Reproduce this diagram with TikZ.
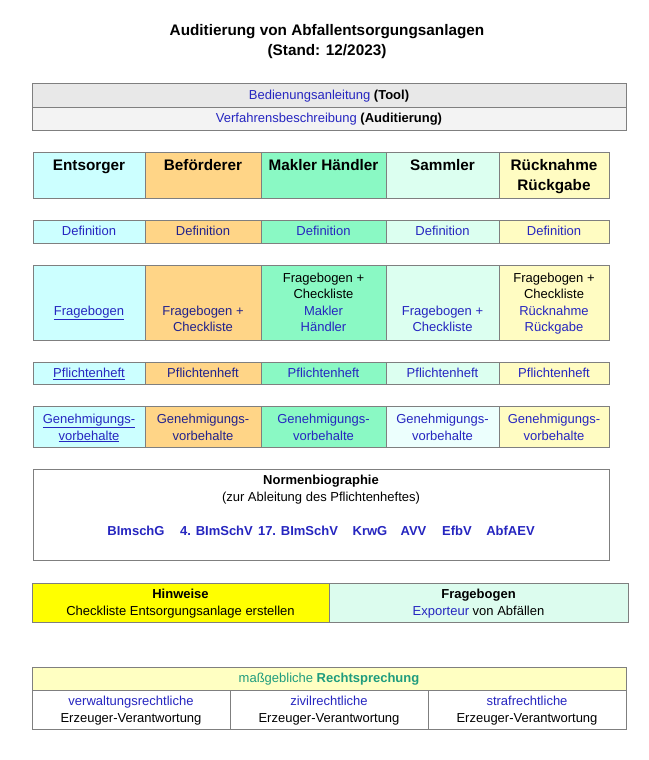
\documentclass[tikz,border=0pt]{standalone}
\usepackage{fontspec}
\setmainfont{Liberation Sans}
\definecolor{bordergray}{HTML}{7F7F7F}
\definecolor{cblue}{HTML}{2626C0}
\definecolor{cnavy}{HTML}{22228C}
\definecolor{cteal}{HTML}{1F9C7E}
\definecolor{cEnt}{HTML}{CCFFFF}
\definecolor{cBef}{HTML}{FFD587}
\definecolor{cMak}{HTML}{8AF9C4}
\definecolor{cSam}{HTML}{DCFFF0}
\definecolor{cSamL}{HTML}{ECFFFD}
\definecolor{cRue}{HTML}{FFFCC2}
\definecolor{cGrayA}{HTML}{E8E8E8}
\definecolor{cGrayB}{HTML}{F3F3F3}
\definecolor{cHin}{HTML}{FFFF00}
\definecolor{cFra}{HTML}{DCFCEE}
\definecolor{cRecht}{HTML}{FFFFC2}
\newcommand\cell[6]{\node[box, fill=#6, minimum width={#4-#2}, minimum height={#5-#3}] (#1) at ({(#2+#4)/2},{(#3+#5)/2}) {};}
\begin{document}
\begin{tikzpicture}[x=1pt,y=-1pt,
  box/.style={draw=bordergray, line width=1pt, inner sep=0pt, outer sep=0pt},
  txt/.style={inner sep=0pt, outer sep=0pt, align=center, font=\fontsize{13}{16.5}\selectfont, yshift=-1pt},
  txtw/.style={txt, font=\fontsize{13}{17.5}\selectfont},
  hdr/.style={inner sep=0pt, outer sep=0pt, align=center, font=\fontsize{15.3}{19.5}\selectfont\bfseries, yshift=-1.6pt},
  law/.style={txt, font=\fontsize{13}{16.5}\selectfont\bfseries, text=cblue}]
\useasboundingbox[fill=white] (0,0) rectangle (648,760);

% title
\node[hdr] (title1) at (327,30) {\strut Auditierung von Abfallentsorgungsanlagen};
\node[hdr] (title2) at (327,50) {\strut (Stand: 12/2023)};

% top box
\cell{tbA}{32}{83}{626}{107}{cGrayA}
\cell{tbB}{32}{107}{626}{130}{cGrayB}
\node[txt] (tbAt) at (tbA.center) {\strut{\color{cblue}Bedienungsanleitung} \textbf{(Tool)}};
\node[txt] (tbBt) at (tbB.center) {\strut{\color{cblue}Verfahrensbeschreibung} \textbf{(Auditierung)}};

% header row
\cell{h1}{33}{152}{145}{198}{cEnt}
\cell{h2}{145}{152}{261}{198}{cBef}
\cell{h3}{261}{152}{386}{198}{cMak}
\cell{h4}{386}{152}{499}{198}{cSam}
\cell{h5}{499}{152}{609}{198}{cRue}
\node[hdr] (h1t) at (89,165) {\strut Entsorger};
\node[hdr] (h2t) at (203,165) {\strut Beförderer};
\node[hdr] (h3t) at (323.5,165) {\strut Makler Händler};
\node[hdr] (h4t) at (442.5,165) {\strut Sammler};
\node[hdr] (h5t) at (554,175) {\strut Rücknahme\\\strut Rückgabe};

% definition row
\cell{d1}{33}{220}{145}{243}{cEnt}
\cell{d2}{145}{220}{261}{243}{cBef}
\cell{d3}{261}{220}{386}{243}{cMak}
\cell{d4}{386}{220}{499}{243}{cSam}
\cell{d5}{499}{220}{609}{243}{cRue}
\node[txt, text=cblue] (d1t) at (d1.center) {\strut Definition};
\node[txt, text=cnavy] (d2t) at (d2.center) {\strut Definition};
\node[txt, text=cblue] (d3t) at (d3.center) {\strut Definition};
\node[txt, text=cblue] (d4t) at (d4.center) {\strut Definition};
\node[txt, text=cblue] (d5t) at (d5.center) {\strut Definition};

% Fragebogen row
\cell{f1}{33}{265}{145}{340}{cEnt}
\cell{f2}{145}{265}{261}{340}{cBef}
\cell{f3}{261}{265}{386}{340}{cMak}
\cell{f4}{386}{265}{499}{340}{cSam}
\cell{f5}{499}{265}{609}{340}{cRue}
\node[txt, text=cblue] (f1t) at (89,311) {\strut\underline{Fragebogen}};
\node[txt, text=cnavy] (f2t) at (203,319.25) {\strut Fragebogen +\\\strut Checkliste};
\node[txt] (f3t) at (323.5,302.75) {\strut Fragebogen +\\\strut Checkliste\\\strut{\color{cblue}Makler}\\\strut{\color{cblue}Händler}};
\node[txt, text=cblue] (f4t) at (442.5,319.25) {\strut Fragebogen +\\\strut Checkliste};
\node[txt] (f5t) at (554,302.75) {\strut Fragebogen +\\\strut Checkliste\\\strut{\color{cblue}Rücknahme}\\\strut{\color{cblue}Rückgabe}};

% Pflichtenheft row
\cell{p1}{33}{362}{145}{384}{cEnt}
\cell{p2}{145}{362}{261}{384}{cBef}
\cell{p3}{261}{362}{386}{384}{cMak}
\cell{p4}{386}{362}{499}{384}{cSam}
\cell{p5}{499}{362}{609}{384}{cRue}
\node[txt, text=cblue] (p1t) at (p1.center) {\strut\underline{Pflichtenheft}};
\node[txt, text=cnavy] (p2t) at (p2.center) {\strut Pflichtenheft};
\node[txt, text=cblue] (p3t) at (p3.center) {\strut Pflichtenheft};
\node[txt, text=cblue] (p4t) at (p4.center) {\strut Pflichtenheft};
\node[txt, text=cblue] (p5t) at (p5.center) {\strut Pflichtenheft};

% Genehmigungsvorbehalte row
\cell{g1}{33}{406}{145}{447}{cEnt}
\cell{g2}{145}{406}{261}{447}{cBef}
\cell{g3}{261}{406}{386}{447}{cMak}
\cell{g4}{386}{406}{499}{447}{cSamL}
\cell{g5}{499}{406}{609}{447}{cRue}
\node[txt, text=cblue] (g1t) at (89,427.5) {\strut\underline{Genehmigungs-}\\\strut\underline{vorbehalte}};
\node[txt, text=cnavy] (g2t) at (203,427.5) {\strut Genehmigungs-\\\strut vorbehalte};
\node[txt, text=cblue] (g3t) at (323.5,427.5) {\strut Genehmigungs-\\\strut vorbehalte};
\node[txt, text=cblue] (g4t) at (442.5,427.5) {\strut Genehmigungs-\\\strut vorbehalte};
\node[txt, text=cblue] (g5t) at (554,427.5) {\strut Genehmigungs-\\\strut vorbehalte};

% Normenbiographie
\cell{nb}{33}{469}{609}{560}{white}
\node[txtw] (nbt) at (321,488.5) {\strut\textbf{Normenbiographie}\\\strut(zur Ableitung des Pflichtenheftes)};
\node[law] (l1) at (136,531) {\strut BImschG};
\node[law] (l2) at (216.5,531) {\strut 4. BImSchV};
\node[law] (l3) at (298,531) {\strut 17. BImSchV};
\node[law] (l4) at (370,531) {\strut KrwG};
\node[law] (l5) at (413.5,531) {\strut AVV};
\node[law] (l6) at (457,531) {\strut EfbV};
\node[law] (l7) at (510.5,531) {\strut AbfAEV};

% Hinweise / Fragebogen
\cell{hw}{32}{583}{329}{622}{cHin}
\cell{fe}{329}{583}{628}{622}{cFra}
\node[txtw] (hwt) at (hw.center) {\strut\textbf{Hinweise}\\\strut Checkliste Entsorgungsanlage erstellen};
\node[txtw] (fet) at (fe.center) {\strut\textbf{Fragebogen}\\\strut{\color{cblue}Exporteur} von Abfällen};

% Rechtsprechung
\cell{rh}{32}{667}{626}{690}{cRecht}
\cell{r1}{32}{690}{230}{729}{white}
\cell{r2}{230}{690}{428}{729}{white}
\cell{r3}{428}{690}{626}{729}{white}
\node[txt, text=cteal] (rht) at (rh.center) {\strut maßgebliche \textbf{Rechtsprechung}};
\node[txtw] (r1t) at (r1.center) {\strut{\color{cblue}verwaltungsrechtliche}\\\strut Erzeuger-Verantwortung};
\node[txtw] (r2t) at (r2.center) {\strut{\color{cblue}zivilrechtliche}\\\strut Erzeuger-Verantwortung};
\node[txtw] (r3t) at (r3.center) {\strut{\color{cblue}strafrechtliche}\\\strut Erzeuger-Verantwortung};
\end{tikzpicture}
\end{document}
